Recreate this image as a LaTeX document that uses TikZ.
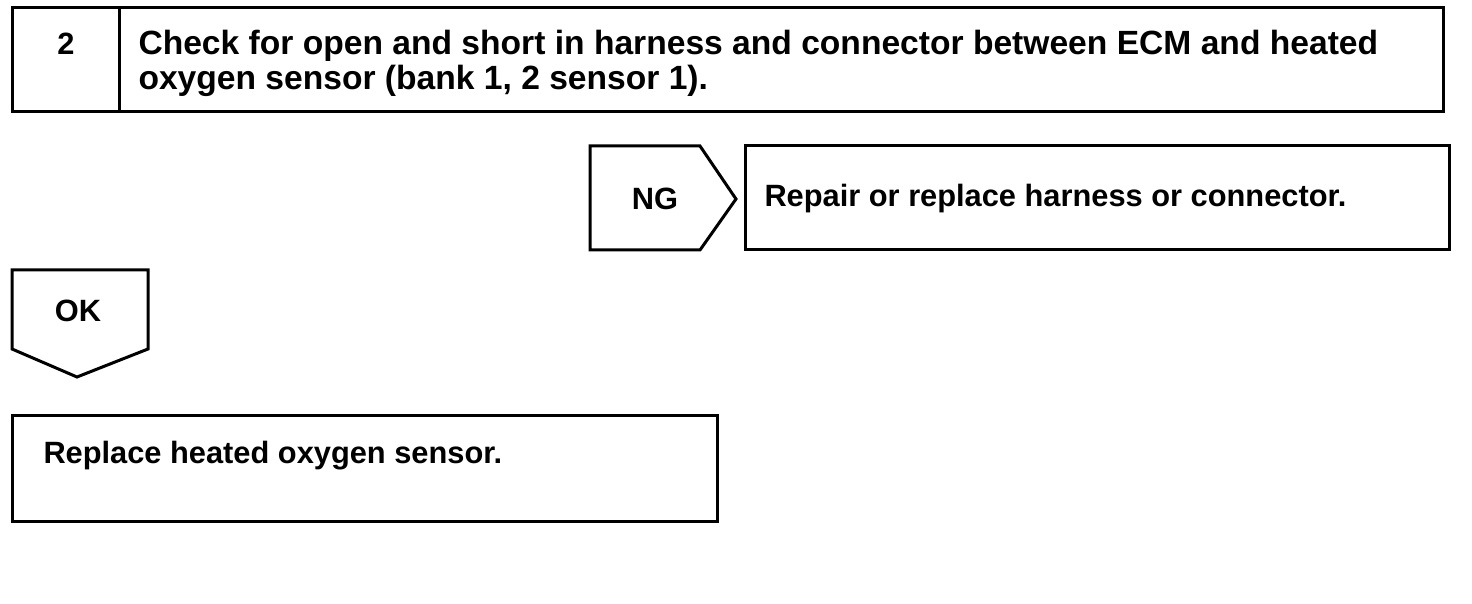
\documentclass[tikz,border=0pt]{standalone}
\usepackage{fontspec}
\setmainfont{Liberation Sans}
\begin{document}
\begin{tikzpicture}[x=0.5pt,y=-0.5pt,line width=1.5pt,
  lbl/.style={font=\bfseries\fontsize{15.4}{17}\selectfont,inner sep=0pt},
  txt/.style={lbl,anchor=west,align=left}]
\useasboundingbox (0,0) rectangle (1472,604);
% step box
\draw (12,8) rectangle (1443,112);
\draw (119,8) -- (119,112);
\node[lbl] (num) at (66,44) {2};
\node[txt,anchor=north west,font=\bfseries\fontsize{16.8}{17.3}\selectfont] (check) at (137,29) {Check for open and short in harness and connector between ECM and heated\\oxygen sensor (bank 1, 2 sensor 1).};
% NG branch
\draw (590,146) -- (700,146) -- (736,199) -- (700,250) -- (590,250) -- cycle;
\node[lbl] (ng) at (655,199) {NG};
\draw (745,146) rectangle (1449,250);
\node[txt] (repair) at (763,199) {Repair or replace harness or connector.};
% OK branch
\draw (12,270) -- (148,270) -- (148,349) -- (77,377) -- (12,349) -- cycle;
\node[lbl] (ok) at (78,311) {OK};
\draw (12,415) rectangle (717,521);
\node[txt] (replace) at (42,456) {Replace heated oxygen sensor.};
\end{tikzpicture}
\end{document}
